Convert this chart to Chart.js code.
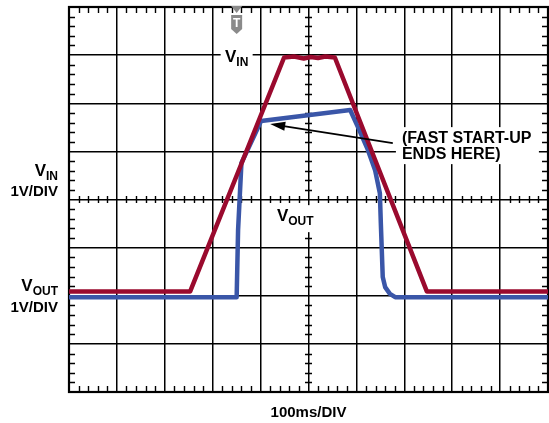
<!DOCTYPE html>
<html>
<head>
<meta charset="utf-8">
<script src="https://cdn.jsdelivr.net/npm/chart.js@4.4.1/dist/chart.umd.min.js"></script>
<style>
  html, body { margin: 0; padding: 0; background: #fff; }
  canvas { display: block; }
</style>
</head>
<body>
<canvas id="scope" width="549" height="423"></canvas>
<script>
// time in ms (100ms/DIV, 10 divisions), level in divisions (1V/DIV, 8 divisions)
const vinTime = [0, 253, 449, 470, 490, 505, 520, 535, 555, 747, 1000];
const vinDiv = [2.09, 2.09, 6.95, 6.97, 6.93, 6.96, 6.94, 6.97, 6.95, 2.09, 2.09];

const voutTime = [0, 350, 353, 360, 401, 587, 603, 624, 639, 649, 651, 655, 660, 670, 681, 1000];
const voutDiv = [1.97, 1.97, 3.37, 4.76, 5.63, 5.86, 5.51, 5.03, 4.61, 4.13, 3.51, 2.39, 2.18, 2.04, 1.97, 1.97];

const timeTicks = [0, 100, 200, 300, 400, 500, 600, 700, 800, 900, 1000];
const levelTicks = [0, 1, 2, 3, 4, 5, 6, 7, 8];

const triggerTime = 350;

const RED = "#9A0A2E";
const BLUE = "#3A56A8";
const FONT = "'Liberation Sans', Arial, sans-serif";

function toPoints(xs, ys) {
  return xs.map((x, i) => ({ x: x, y: ys[i] }));
}

// V + subscript text
function subText(ctx, main, sub, x, y, align) {
  ctx.font = "bold 17px " + FONT;
  const w1 = ctx.measureText(main).width;
  ctx.font = "bold 12px " + FONT;
  const w2 = ctx.measureText(sub).width;
  let left = align === "right" ? x - w1 - w2 : align === "center" ? x - (w1 + w2) / 2 : x;
  ctx.textAlign = "left";
  ctx.textBaseline = "alphabetic";
  ctx.font = "bold 17px " + FONT;
  ctx.fillText(main, left, y);
  ctx.font = "bold 12px " + FONT;
  ctx.fillText(sub, left + w1, y + 4);
  return w1 + w2;
}

const scopeDecor = {
  id: "scopeDecor",
  beforeDatasetsDraw(chart) {
    const ctx = chart.ctx;
    const a = chart.chartArea;
    const xs = chart.scales.x;
    const ys = chart.scales.y;
    ctx.save();
    ctx.strokeStyle = "#000";
    ctx.lineWidth = 1.4;
    ctx.beginPath();
    // minor ticks on the frame and the centre axes
    const cx = xs.getPixelForValue(500);
    const cy = ys.getPixelForValue(4);
    for (let t = 20; t < 1000; t += 20) {
      if (t % 100 === 0) continue;
      const px = Math.round(xs.getPixelForValue(t)) + 0.5;
      ctx.moveTo(px, a.top); ctx.lineTo(px, a.top + 6);
      ctx.moveTo(px, a.bottom); ctx.lineTo(px, a.bottom - 6);
      ctx.moveTo(px, cy - 3.5); ctx.lineTo(px, cy + 3.5);
    }
    for (let v = 0.2; v < 8; v += 0.2) {
      const r = Math.round(v * 10) / 10;
      if (Math.abs(r - Math.round(r)) < 0.01) continue;
      const py = Math.round(ys.getPixelForValue(r)) + 0.5;
      ctx.moveTo(a.left, py); ctx.lineTo(a.left + 6, py);
      ctx.moveTo(a.right, py); ctx.lineTo(a.right - 6, py);
      ctx.moveTo(cx - 3.5, py); ctx.lineTo(cx + 3.5, py);
    }
    ctx.stroke();

    // frame
    ctx.lineWidth = 2.2;
    ctx.strokeRect(a.left, a.top, a.right - a.left, a.bottom - a.top);

    // trigger marker
    const tx = xs.getPixelForValue(triggerTime);
    ctx.fillStyle = "#8a8a8a";
    ctx.beginPath();
    ctx.moveTo(tx - 5.5, a.top - 1);
    ctx.lineTo(tx + 5.5, a.top - 1);
    ctx.lineTo(tx, a.top + 6);
    ctx.closePath();
    ctx.fill();
    ctx.beginPath();
    ctx.moveTo(tx - 5.5, a.top + 8);
    ctx.lineTo(tx + 5.5, a.top + 8);
    ctx.lineTo(tx + 5.5, a.top + 22);
    ctx.lineTo(tx, a.top + 27);
    ctx.lineTo(tx - 5.5, a.top + 22);
    ctx.closePath();
    ctx.fill();
    ctx.fillStyle = "#fff";
    ctx.font = "bold 12px " + FONT;
    ctx.textAlign = "center";
    ctx.textBaseline = "alphabetic";
    ctx.fillText("T", tx, a.top + 20);

    // VIN trace label on the top grid line
    const vinX = xs.getPixelForValue(350);
    const vinY = ys.getPixelForValue(7);
    ctx.fillStyle = "#fff";
    ctx.fillRect(vinX - 16, vinY - 8, 32, 18);
    ctx.fillStyle = "#000";
    subText(ctx, "V", "IN", vinX, vinY + 7, "center");

    // VOUT trace label on the centre axis
    const voX = xs.getPixelForValue(434);
    const voY = ys.getPixelForValue(3.55);
    ctx.fillStyle = "#fff";
    ctx.fillRect(voX - 3, voY - 16, 46, 27);
    ctx.fillStyle = "#000";
    subText(ctx, "V", "OUT", voX, voY, "left");

    // note box
    const nX = xs.getPixelForValue(695);
    const nY = ys.getPixelForValue(5.4);
    ctx.fillStyle = "#fff";
    ctx.fillRect(nX - 6, nY - 5, 143, 37);
    ctx.fillStyle = "#000";
    ctx.font = "bold 16px " + FONT;
    ctx.textAlign = "left";
    ctx.fillText("(FAST START-UP", nX, nY + 11);
    ctx.fillText("ENDS HERE)", nX, nY + 27);

    // channel scale labels, left of the frame
    const lx = a.left - 11;
    subText(ctx, "V", "IN", lx, ys.getPixelForValue(4.47) - 1, "right");
    ctx.font = "bold 15px " + FONT;
    ctx.textAlign = "right";
    ctx.fillText("1V/DIV", lx, ys.getPixelForValue(4.07));
    subText(ctx, "V", "OUT", lx, ys.getPixelForValue(2.08) - 1, "right");
    ctx.font = "bold 15px " + FONT;
    ctx.textAlign = "right";
    ctx.fillText("1V/DIV", lx, ys.getPixelForValue(1.66));

    // time base label
    ctx.textAlign = "center";
    ctx.fillText("100ms/DIV", xs.getPixelForValue(500), a.bottom + 25);
    ctx.restore();
  },
  afterDatasetsDraw(chart) {
    const ctx = chart.ctx;
    const xs = chart.scales.x;
    const ys = chart.scales.y;
    const x1 = xs.getPixelForValue(676), y1 = ys.getPixelForValue(5.17);
    const x2 = xs.getPixelForValue(420), y2 = ys.getPixelForValue(5.57);
    const ang = Math.atan2(y2 - y1, x2 - x1);
    ctx.save();
    ctx.strokeStyle = "#000";
    ctx.fillStyle = "#000";
    ctx.lineWidth = 1.7;
    ctx.beginPath();
    ctx.moveTo(x1, y1);
    ctx.lineTo(x2 - 12 * Math.cos(ang), y2 - 12 * Math.sin(ang));
    ctx.stroke();
    ctx.beginPath();
    ctx.moveTo(x2, y2);
    ctx.lineTo(x2 - 15 * Math.cos(ang) + 4.5 * Math.sin(ang), y2 - 15 * Math.sin(ang) - 4.5 * Math.cos(ang));
    ctx.lineTo(x2 - 15 * Math.cos(ang) - 4.5 * Math.sin(ang), y2 - 15 * Math.sin(ang) + 4.5 * Math.cos(ang));
    ctx.closePath();
    ctx.fill();
    ctx.restore();
  }
};

new Chart(document.getElementById("scope").getContext("2d"), {
  type: "line",
  data: {
    datasets: [
      {
        label: "VOUT",
        data: toPoints(voutTime, voutDiv),
        borderColor: BLUE,
        borderWidth: 4.5,
        pointRadius: 0,
        tension: 0,
        borderJoinStyle: "round",
        order: 2,
      },
      {
        label: "VIN",
        data: toPoints(vinTime, vinDiv),
        borderColor: RED,
        borderWidth: 4.5,
        pointRadius: 0,
        tension: 0,
        borderJoinStyle: "round",
        order: 1,
      },
    ],
  },
  options: {
    responsive: false,
    animation: false,
    layout: { padding: { left: 69, top: 7, right: 1, bottom: 31 } },
    plugins: {
      legend: { display: false },
      tooltip: { enabled: false },
    },
    scales: {
      x: {
        type: "linear",
        min: timeTicks[0],
        max: timeTicks[timeTicks.length - 1],
        afterBuildTicks: (s) => { s.ticks = timeTicks.map((v) => ({ value: v })); },
        ticks: { display: false },
        grid: { color: "#000", lineWidth: 1.5, drawTicks: false },
        border: { display: false },
      },
      y: {
        type: "linear",
        min: levelTicks[0],
        max: levelTicks[levelTicks.length - 1],
        afterBuildTicks: (s) => { s.ticks = levelTicks.map((v) => ({ value: v })); },
        ticks: { display: false },
        grid: { color: "#000", lineWidth: 1.5, drawTicks: false },
        border: { display: false },
      },
    },
  },
  plugins: [scopeDecor],
});
</script>
</body>
</html>
